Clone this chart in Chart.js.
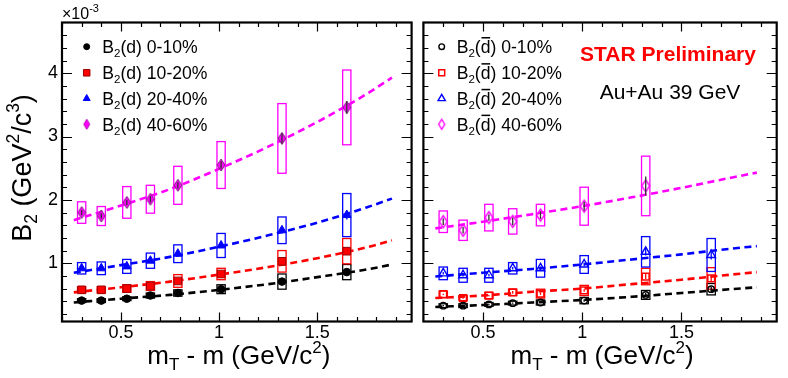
<!DOCTYPE html>
<html><head><meta charset="utf-8">
<script src="https://cdn.jsdelivr.net/npm/chart.js@4.4.1/dist/chart.umd.min.js"></script>
<style>
html,body{margin:0;padding:0;background:#fff;}
#wrap{position:relative;width:788px;height:378px;overflow:hidden;background:#fff;}
#cL{position:absolute;left:0;top:0;}
#cR{position:absolute;left:417px;top:0;}
</style></head><body>
<div id="wrap"><canvas id="cL" width="418" height="378"></canvas><canvas id="cR" width="371" height="378"></canvas></div>
<script>
// ---------- data (values in units of 1e-3 GeV^2/c^3) ----------
const mtX = [0.30, 0.40, 0.53, 0.65, 0.79, 1.01, 1.32, 1.65];
const centralities = ['0-10%', '10-20%', '20-40%', '40-60%'];

// deuteron B2
const d010     = [0.41, 0.41, 0.44, 0.49, 0.53, 0.59, 0.71, 0.86];
const d010Sys  = [0.03, 0.03, 0.03, 0.04, 0.05, 0.07, 0.12, 0.12];
const d010Stat = [0.01, 0.01, 0.01, 0.01, 0.01, 0.02, 0.03, 0.04];
const d1020     = [0.58, 0.58, 0.60, 0.64, 0.72, 0.83, 1.03, 1.19];
const d1020Sys  = [0.05, 0.05, 0.06, 0.07, 0.10, 0.09, 0.17, 0.20];
const d1020Stat = [0.01, 0.01, 0.01, 0.02, 0.02, 0.02, 0.04, 0.05];
const d2040     = [0.92, 0.92, 0.95, 1.04, 1.15, 1.28, 1.52, 1.76];
const d2040Sys  = [0.09, 0.10, 0.11, 0.12, 0.14, 0.19, 0.21, 0.34];
const d2040Stat = [0.02, 0.02, 0.02, 0.02, 0.03, 0.03, 0.05, 0.07];
const d4060     = [1.80, 1.745, 1.96, 2.01, 2.23, 2.55, 2.97, 3.46];
const d4060Sys  = [0.17, 0.15, 0.25, 0.22, 0.30, 0.37, 0.55, 0.59];
const d4060Stat = [0.04, 0.04, 0.04, 0.05, 0.05, 0.06, 0.08, 0.10];

// anti-deuteron B2
const ad010     = [0.33, 0.33, 0.35, 0.37, 0.38, 0.41, 0.50, 0.59];
const ad010Sys  = [0.03, 0.03, 0.03, 0.03, 0.04, 0.05, 0.07, 0.09];
const ad010Stat = [0.01, 0.01, 0.01, 0.01, 0.01, 0.02, 0.03, 0.04];
const ad1020     = [0.51, 0.45, 0.49, 0.54, 0.52, 0.57, 0.79, 0.76];
const ad1020Sys  = [0.05, 0.04, 0.05, 0.05, 0.07, 0.08, 0.13, 0.17];
const ad1020Stat = [0.01, 0.01, 0.01, 0.02, 0.02, 0.02, 0.04, 0.05];
const ad2040     = [0.84, 0.81, 0.81, 0.92, 0.92, 0.98, 1.18, 1.13];
const ad2040Sys  = [0.10, 0.11, 0.11, 0.09, 0.14, 0.14, 0.24, 0.26];
const ad2040Stat = [0.02, 0.02, 0.02, 0.02, 0.03, 0.03, 0.06, 0.07];
const ad4060     = [1.655, 1.52, 1.72, 1.66, 1.76, 1.90, 2.22, null];
const ad4060Sys  = [0.17, 0.16, 0.21, 0.20, 0.17, 0.30, 0.47, null];
const ad4060Stat = [0.05, 0.05, 0.05, 0.06, 0.06, 0.07, 0.15, null];

// fit curves
const fitX      = [0.26, 0.50, 0.75, 1.00, 1.25, 1.50, 1.75, 1.88];
const fitD010   = [0.38, 0.44, 0.50, 0.58, 0.67, 0.78, 0.90, 0.98];
const fitD1020  = [0.54, 0.62, 0.71, 0.82, 0.94, 1.08, 1.25, 1.36];
const fitD2040  = [0.85, 0.97, 1.10, 1.26, 1.44, 1.64, 1.88, 2.02];
const fitD4060  = [1.68, 1.91, 2.17, 2.49, 2.84, 3.23, 3.67, 3.93];
const fitAD010  = [0.31, 0.34, 0.38, 0.42, 0.47, 0.53, 0.59, 0.62];
const fitAD1020 = [0.45, 0.49, 0.55, 0.60, 0.67, 0.74, 0.82, 0.86];
const fitAD2040 = [0.79, 0.85, 0.91, 0.98, 1.06, 1.14, 1.23, 1.27];
const fitAD4060 = [1.55, 1.655, 1.775, 1.90, 2.04, 2.19, 2.35, 2.43];

// axes
const xMin = 0.2, xMax = 1.98, yMin = 0.08, yMax = 4.8;
const xTicks = [0.5, 1, 1.5];
const xTickLabels = ['0.5', '1', '1.5'];
const yTicks = [1, 2, 3, 4];
const yTickLabels = ['1', '2', '3', '4'];

// ---------- styling ----------
const FONT = '"Liberation Sans", Arial, Helvetica, sans-serif';
Chart.defaults.font.family = FONT;
const COLORS = ['#000000', '#ff0000', '#0000ff', '#ff00ff'];

function makeDiamond(w, h, fill, stroke, lw) {
  const c = document.createElement('canvas');
  c.width = Math.ceil(w + lw * 2 + 2); c.height = Math.ceil(h + lw * 2 + 2);
  const g = c.getContext('2d');
  const cx = c.width / 2, cy = c.height / 2;
  g.beginPath();
  g.moveTo(cx, cy - h / 2); g.lineTo(cx + w / 2, cy); g.lineTo(cx, cy + h / 2); g.lineTo(cx - w / 2, cy); g.closePath();
  if (fill) { g.fillStyle = fill; g.fill(); }
  g.lineWidth = lw; g.strokeStyle = stroke; g.stroke();
  return c;
}
const diamondFilled = makeDiamond(8, 12, '#ff00ff', '#7a237a', 1);
const diamondOpen = makeDiamond(8, 12, null, '#ff00ff', 1.4);
const diamondFilledSm = makeDiamond(6, 10, '#ff00ff', '#b000b0', 1);
const diamondOpenSm = makeDiamond(6, 10, null, '#ff00ff', 1.4);

const stylesL = [
  { pointStyle: 'circle', radius: 3.8, fill: '#000', border: '#000', bw: 1, lr: 3 },
  { pointStyle: 'rect', radius: 5.4, fill: '#ff0000', border: '#990000', bw: 1, lr: 4.6 },
  { pointStyle: 'triangle', radius: 5, fill: '#0000ff', border: '#0000ff', bw: 1, lr: 4 },
  { pointStyle: diamondFilled, legendStyle: diamondFilledSm, radius: 5, fill: '#ff00ff', border: '#ff00ff', bw: 1 }
];
const stylesR = [
  { pointStyle: 'circle', radius: 3.2, fill: 'rgba(0,0,0,0)', border: '#000', bw: 1.4, lr: 2.8 },
  { pointStyle: 'rect', radius: 4.8, fill: 'rgba(0,0,0,0)', border: '#ff0000', bw: 1.5, lr: 4.2 },
  { pointStyle: 'triangle', radius: 5, fill: 'rgba(0,0,0,0)', border: '#0000ff', bw: 1.4, lr: 4.2 },
  { pointStyle: diamondOpen, legendStyle: diamondOpenSm, radius: 5, fill: 'rgba(0,0,0,0)', border: '#ff00ff', bw: 1.4 }
];

function pts(arr) { return mtX.map((x, i) => arr[i] == null ? null : { x: x, y: arr[i] }).filter(Boolean); }
function fitPts(arr) { return fitX.map((x, i) => ({ x: x, y: arr[i] })); }

function buildDatasets(vals, fits, styles) {
  const ds = [];
  fits.forEach((f, i) => ds.push({
    data: fitPts(f), showLine: true, borderColor: COLORS[i], borderWidth: 2.6, borderDash: [7, 4.5],
    pointRadius: 0, fill: false, cubicInterpolationMode: 'monotone', order: 3
  }));
  vals.forEach((v, i) => ds.push({
    data: pts(v), showLine: false, pointStyle: styles[i].pointStyle, pointRadius: styles[i].radius,
    backgroundColor: styles[i].fill, borderColor: styles[i].border, borderWidth: styles[i].bw, order: 1
  }));
  return ds;
}

// ---------- rich text ----------
function fontStr(s) { return (s.bold ? 'bold ' : '') + s.size + 'px ' + FONT; }
function richWidth(ctx, segs) { let w = 0; for (const s of segs) { ctx.font = fontStr(s); w += ctx.measureText(s.t).width; } return w; }
function drawRich(ctx, segs, x, y, align, color) {
  const w = richWidth(ctx, segs);
  let cx = align === 'center' ? x - w / 2 : (align === 'right' ? x - w : x);
  ctx.textAlign = 'left'; ctx.textBaseline = 'alphabetic'; ctx.fillStyle = color || '#000';
  for (const s of segs) {
    ctx.font = fontStr(s);
    ctx.fillText(s.t, cx, y + (s.dy || 0));
    const sw = ctx.measureText(s.t).width;
    if (s.over) {
      ctx.save(); ctx.strokeStyle = color || '#000'; ctx.lineWidth = 1.5;
      ctx.beginPath(); const oy = y - s.size * 0.86; ctx.moveTo(cx + 0.8, oy); ctx.lineTo(cx + sw - 0.3, oy); ctx.stroke(); ctx.restore();
    }
    cx += sw;
  }
}
const LF = 17.6;
function legendSegs(anti, cent) {
  return [{ t: 'B', size: LF }, { t: '2', size: 11.5, dy: 4 }, { t: '(', size: LF }, { t: 'd', size: LF, over: anti }, { t: ') ' + cent, size: LF }];
}
function xTitleSegs() {
  return [{ t: 'm', size: 26 }, { t: 'T', size: 17, dy: 6 }, { t: ' - m (GeV/c', size: 26 }, { t: '2', size: 17, dy: -11 }, { t: ')', size: 26 }];
}
function yTitleSegs() {
  return [{ t: 'B', size: 27 }, { t: '2', size: 17.5, dy: 6 }, { t: ' (GeV', size: 27 }, { t: '2', size: 17.5, dy: -11.5 }, { t: '/c', size: 27 }, { t: '3', size: 17.5, dy: -11.5 }, { t: ')', size: 27 }];
}

// ---------- panel plugin ----------
function panelPlugin(side, vals, syss, stats, styles) {
  return {
    id: 'panel' + side,
    beforeDatasetsDraw(chart) {
      const ctx = chart.ctx, xs = chart.scales.x, ys = chart.scales.y, a = chart.chartArea;
      ctx.save();
      ctx.beginPath(); ctx.rect(a.left, a.top, a.right - a.left, a.bottom - a.top); ctx.clip();
      ctx.lineWidth = 1.3;
      vals.forEach((v, k) => {
        ctx.strokeStyle = COLORS[k];
        v.forEach((y, i) => {
          if (y == null) return;
          const x0 = xs.getPixelForValue(mtX[i] - 0.021), x1 = xs.getPixelForValue(mtX[i] + 0.021);
          const yt = ys.getPixelForValue(y + syss[k][i]), yb = ys.getPixelForValue(y - syss[k][i]);
          ctx.strokeRect(x0, yt, x1 - x0, yb - yt);
        });
      });
      ctx.restore();
    },
    afterDatasetsDraw(chart) {
      const ctx = chart.ctx, xs = chart.scales.x, ys = chart.scales.y;
      ctx.save(); ctx.lineWidth = 1.3;
      vals.forEach((v, k) => {
        ctx.strokeStyle = k === 3 ? '#333333' : COLORS[k];
        v.forEach((y, i) => {
          if (y == null) return;
          const px = xs.getPixelForValue(mtX[i]);
          ctx.beginPath();
          ctx.moveTo(px, ys.getPixelForValue(y + stats[k][i]));
          ctx.lineTo(px, ys.getPixelForValue(y - stats[k][i]));
          ctx.stroke();
        });
      });
      ctx.restore();
    },
    afterDraw(chart) {
      const ctx = chart.ctx, xs = chart.scales.x, ys = chart.scales.y, a = chart.chartArea;
      ctx.save();
      // ticks (inward)
      ctx.strokeStyle = '#000'; ctx.lineWidth = 1.2;
      ctx.beginPath();
      for (let v = 0.2; v < xMax - 0.01; v += 0.1) {
        const vv = Math.round(v * 10) / 10;
        const major = xTicks.some(t => Math.abs(t - vv) < 1e-6);
        const L = major ? 9 : 4.5;
        const px = Math.round(xs.getPixelForValue(vv)) + 0.5;
        ctx.moveTo(px, a.bottom); ctx.lineTo(px, a.bottom - L);
        ctx.moveTo(px, a.top); ctx.lineTo(px, a.top + L);
      }
      for (let v = 0.2; v < yMax - 0.01; v += 0.2) {
        const vv = Math.round(v * 10) / 10;
        const major = yTicks.some(t => Math.abs(t - vv) < 1e-6);
        const L = major ? 10 : 5;
        const py = Math.round(ys.getPixelForValue(vv)) + 0.5;
        ctx.moveTo(a.left, py); ctx.lineTo(a.left + L, py);
        ctx.moveTo(a.right, py); ctx.lineTo(a.right - L, py);
      }
      ctx.stroke();
      // frame
      ctx.lineWidth = 2.2;
      ctx.strokeRect(a.left, a.top, a.right - a.left, a.bottom - a.top);

      // x title
      drawRich(ctx, xTitleSegs(), (a.left + a.right) / 2 + 2, 364, 'center', '#000');

      // legend
      const mx = side === 'L' ? 86.7 : 24.7, tx = side === 'L' ? 102.3 : 39.7;
      const rows = [46.7, 72.8, 98.5, 124.3];
      rows.forEach((ry, k) => {
        const st = styles[k];
        ctx.save();
        ctx.fillStyle = st.fill; ctx.strokeStyle = st.border; ctx.lineWidth = st.bw;
        if (st.legendStyle) {
          Chart.helpers.drawPoint(ctx, { pointStyle: st.legendStyle, radius: 5, rotation: 0, borderWidth: 0 }, mx, ry);
        } else {
          Chart.helpers.drawPoint(ctx, { pointStyle: st.pointStyle, radius: st.lr, rotation: 0, borderWidth: st.bw }, mx, ry);
        }
        ctx.restore();
        drawRich(ctx, legendSegs(side === 'R', centralities[k]), tx, ry + 6.2, 'left', '#000');
      });

      if (side === 'L') {
        // exponent
        drawRich(ctx, [{ t: '\u00d710', size: 16 }, { t: '-3', size: 11, dy: -7 }], 62, 18.5, 'left', '#000');
        // y title
        ctx.save();
        ctx.translate(30.5, 168);
        ctx.rotate(-Math.PI / 2);
        drawRich(ctx, yTitleSegs(), 0, 0, 'center', '#000');
        ctx.restore();
      } else {
        ctx.font = 'bold 21px ' + FONT; ctx.fillStyle = '#ff0000'; ctx.textAlign = 'center'; ctx.textBaseline = 'alphabetic';
        ctx.fillText('STAR Preliminary', 251, 60.8);
        ctx.font = '21px ' + FONT; ctx.fillStyle = '#000';
        ctx.fillText('Au+Au 39 GeV', 253, 99.2);
      }
      ctx.restore();
    }
  };
}

function makeOptions(side) {
  return {
    responsive: false, animation: false, events: [],
    layout: { padding: side === 'L' ? { left: 0, right: 0, top: 22.5, bottom: 0 } : { left: 1, right: 11.3, top: 22.5, bottom: 0 } },
    plugins: { legend: { display: false }, tooltip: { enabled: false } },
    scales: {
      x: {
        type: 'linear', min: xMin, max: xMax, position: 'bottom',
        afterBuildTicks: s => { s.ticks = xTicks.map(v => ({ value: v })); },
        afterFit: s => { s.height = 56.5; },
        grid: { display: false, drawTicks: false }, border: { display: false },
        ticks: { padding: 1, font: { size: 18 }, color: '#000', maxRotation: 0, autoSkip: false, callback: (v, i) => xTickLabels[i] }
      },
      y: {
        type: 'linear', min: yMin, max: yMax, display: side === 'L',
        afterBuildTicks: s => { s.ticks = yTicks.map(v => ({ value: v })); },
        afterFit: s => { s.width = side === 'L' ? 62 : 0; },
        grid: { display: false, drawTicks: false }, border: { display: false },
        ticks: { padding: 4, font: { size: 18 }, color: '#000', autoSkip: false, callback: (v, i) => yTickLabels[i] }
      }
    }
  };
}

const valsL = [d010, d1020, d2040, d4060];
const sysL = [d010Sys, d1020Sys, d2040Sys, d4060Sys];
const statL = [d010Stat, d1020Stat, d2040Stat, d4060Stat];
const fitsL = [fitD010, fitD1020, fitD2040, fitD4060];
const valsR = [ad010, ad1020, ad2040, ad4060];
const sysR = [ad010Sys, ad1020Sys, ad2040Sys, ad4060Sys];
const statR = [ad010Stat, ad1020Stat, ad2040Stat, ad4060Stat];
const fitsR = [fitAD010, fitAD1020, fitAD2040, fitAD4060];

new Chart(document.getElementById('cL'), {
  type: 'scatter',
  data: { datasets: buildDatasets(valsL, fitsL, stylesL) },
  options: makeOptions('L'),
  plugins: [panelPlugin('L', valsL, sysL, statL, stylesL)]
});
new Chart(document.getElementById('cR'), {
  type: 'scatter',
  data: { datasets: buildDatasets(valsR, fitsR, stylesR) },
  options: makeOptions('R'),
  plugins: [panelPlugin('R', valsR, sysR, statR, stylesR)]
});
</script>
</body></html>
